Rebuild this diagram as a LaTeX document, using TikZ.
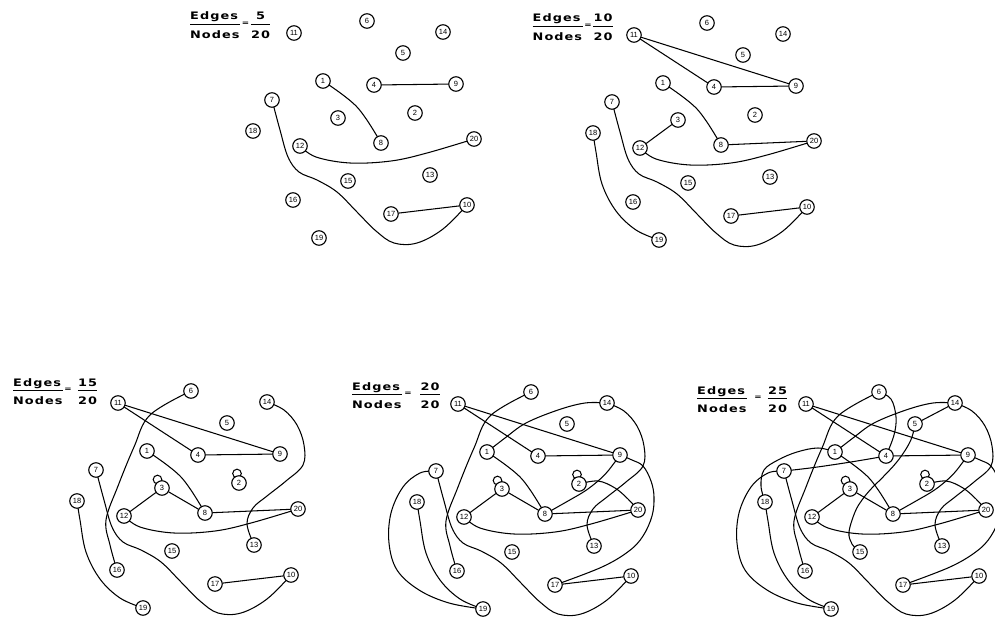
\documentclass[tikz,border=0pt]{standalone}
\usepackage{fontspec}
\setmainfont{Liberation Sans}
\newfontfamily\labfont[FakeStretch=1.25, LetterSpace=10]{DejaVu Sans}

\pgfdeclarelayer{edges}
\pgfsetlayers{edges,main}

\tikzset{
  vtx/.style={circle, draw, fill=white, line width=1.1pt, minimum size=14.5pt,
              inner sep=0pt, font=\fontsize{7.5}{7.5}\selectfont},
  lnk/.style={line width=1.05pt, line join=round, line cap=round},
  lab/.style={inner sep=0pt, font=\labfont\bfseries\fontsize{10.3}{11}\selectfont},
  eqsign/.style={inner sep=0pt, font=\labfont\bfseries\fontsize{7}{7}\selectfont},
  bar/.style={line width=0.8pt}
}

% caption "Edges/Nodes = k/20": prefix, left end of the rule, rule height,
% position of the equals sign, centre of the count, count
\newcommand\ratiolabel[6]{%
  \node[lab, anchor=base west] (#1-e) at (#2, #3-4) {Edges};
  \node[lab, anchor=base west] (#1-n) at (#2, #3+14.5) {Nodes};
  \draw[bar] (#1-e.west |- 0,#3) -- ++(50,0);
  \node[eqsign] (#1-q) at (#4, #3) {=};
  \node[lab, anchor=base] (#1-k) at (#5, #3-4) {#6};
  \node[lab, anchor=base] (#1-t) at (#5, #3+14.5) {20};
  \draw[bar] (#1-t.west |- 0,#3) -- (#1-t.east |- 0,#3);}

% the twenty vertices of one graph, named <prefix>-<number>
\newcommand\vertices[1]{%
  \foreach \n/\px/\py in {11/118/403, 6/191/391, 14/267/402, 5/227/423,
      1/147/451, 4/198/455, 9/280/454, 7/96/470, 3/162/488, 2/239/483,
      18/77/501, 12/124/516, 8/205/513, 20/298/509, 15/172/551,
      13/254/545, 16/117/570, 17/215/584, 10/291/575, 19/143/608}
    {\node[vtx] (#1-\n) at (\px,\py) {\n};}}

% first five edges
\newcommand\edgesA[1]{%
  \draw[lnk] (#1-4) -- (#1-9);
  \draw[lnk] (#1-17) -- (#1-10);
  \draw[lnk] plot[smooth, tension=.6] coordinates {(#1-1) (181,477) (#1-8)};
  \draw[lnk] plot[smooth, tension=.6] coordinates {(#1-12) (140,527) (174,533) (215,531) (251,523) (#1-20)};
  \draw[lnk] plot[smooth, tension=.6] coordinates {(#1-7) (104,500) (112,527) (123,542) (141,550) (161,562)
      (181,582) (200,601) (218,613) (241,613) (267,599) (#1-10)};}

% edges six to ten
\newcommand\edgesB[1]{%
  \draw[lnk] (#1-11) -- (#1-4);
  \draw[lnk] (#1-11) -- (#1-9);
  \draw[lnk] (#1-3) -- (#1-12);
  \draw[lnk] (#1-8) -- (#1-20);
  \draw[lnk] plot[smooth, tension=.6] coordinates {(#1-18) (80,520) (86,552) (100,579) (120,598) (#1-19)};}

% edges eleven to fifteen (two of them are loops)
\newcommand\edgesC[1]{%
  \draw[lnk] plot[smooth, tension=.6] coordinates {(#1-6) (150,415) (134,447) (118,486) (106,520) (110,545) (#1-16)};
  \draw[lnk] ([shift={(-4.5,-8.5)}]#1-3.center) circle[radius=4.3pt];
  \draw[lnk] ([shift={(-2,-9.5)}]#1-2.center) circle[radius=4.3pt];
  \draw[lnk] (#1-3) -- (#1-8);
  \draw[lnk] plot[smooth, tension=.6] coordinates {(#1-14) (284,410) (297,425) (304,445) (303,465)
      (286,481) (267,496) (253,508) (247,524) (#1-13)};}

% edges sixteen to twenty
\newcommand\edgesD[1]{%
  \draw[lnk] plot[smooth, tension=.6] coordinates {(#1-7) (80,472) (63,486) (51,512) (49,542) (57,569)
      (79,589) (109,602) (#1-19)};
  \draw[lnk] plot[smooth, tension=.6] coordinates {(#1-1) (165,437) (186,422) (218,409) (245,402) (#1-14)};
  \draw[lnk] plot[smooth, tension=.6] coordinates {(#1-9) (268,470) (258,480) (245,490) (228,500) (#1-8)};
  \draw[lnk] plot[smooth, tension=.6] coordinates {(#1-9) (292,459) (303,465) (311,480) (314,496) (312,515)
      (303,535) (289,550) (262,566) (#1-17)};
  \draw[lnk] plot[smooth, tension=.6] coordinates {(#1-2) (258,480) (275,487) (288,498) (#1-20)};}

% edges twenty-one to twenty-five
\newcommand\edgesE[1]{%
  \draw[lnk] plot[smooth, tension=.6] coordinates {(#1-6) (203,398) (208,416) (206,434) (#1-4)};
  \draw[lnk] plot[smooth, tension=.6] coordinates {(#1-7) (122,467) (150,463) (175,459) (#1-4)};
  \draw[lnk] (#1-14) -- (#1-5);
  \draw[lnk] plot[smooth, tension=.6] coordinates {(#1-5) (224,436) (218,448) (208,462) (195,476) (183,488)
      (174,499) (167,511) (161,531) (164,543) (#1-15)};
  \draw[lnk] plot[smooth, tension=.6] coordinates {(#1-1) (130,447) (109,451) (90,459) (76,469) (73,485) (#1-18)};}

\begin{document}
\begin{tikzpicture}[x=1pt, y=-1pt]
  \useasboundingbox (0,0) rectangle (995,618);

  % graph with 5 edges
  \begin{scope}[shift={(176,-370)}]
    \vertices{a}
    \begin{pgfonlayer}{edges}\edgesA{a}\end{pgfonlayer}
  \end{scope}

  % graph with 10 edges
  \begin{scope}[shift={(516,-368)}]
    \vertices{b}
    \begin{pgfonlayer}{edges}\edgesA{b}\edgesB{b}\end{pgfonlayer}
  \end{scope}

  % graph with 15 edges
  \begin{scope}
    \vertices{c}
    \begin{pgfonlayer}{edges}\edgesA{c}\edgesB{c}\edgesC{c}\end{pgfonlayer}
  \end{scope}

  % graph with 20 edges
  \begin{scope}[shift={(340,1)}]
    \vertices{d}
    \begin{pgfonlayer}{edges}\edgesA{d}\edgesB{d}\edgesC{d}\edgesD{d}\end{pgfonlayer}
  \end{scope}

  % graph with 25 edges
  \begin{scope}[shift={(688,1)}]
    \vertices{e}
    \begin{pgfonlayer}{edges}\edgesA{e}\edgesB{e}\edgesC{e}\edgesD{e}\edgesE{e}\end{pgfonlayer}
  \end{scope}

  % captions
  \ratiolabel{ra}{190}{24}{245.5}{260.5}{5}
  \ratiolabel{rb}{532.5}{26}{588}{603}{10}
  \ratiolabel{rc}{13}{390}{68}{87.5}{15}
  \ratiolabel{rd}{352}{394}{408}{430}{20}
  \ratiolabel{re}{697}{398}{758}{777.5}{25}
\end{tikzpicture}
\end{document}
